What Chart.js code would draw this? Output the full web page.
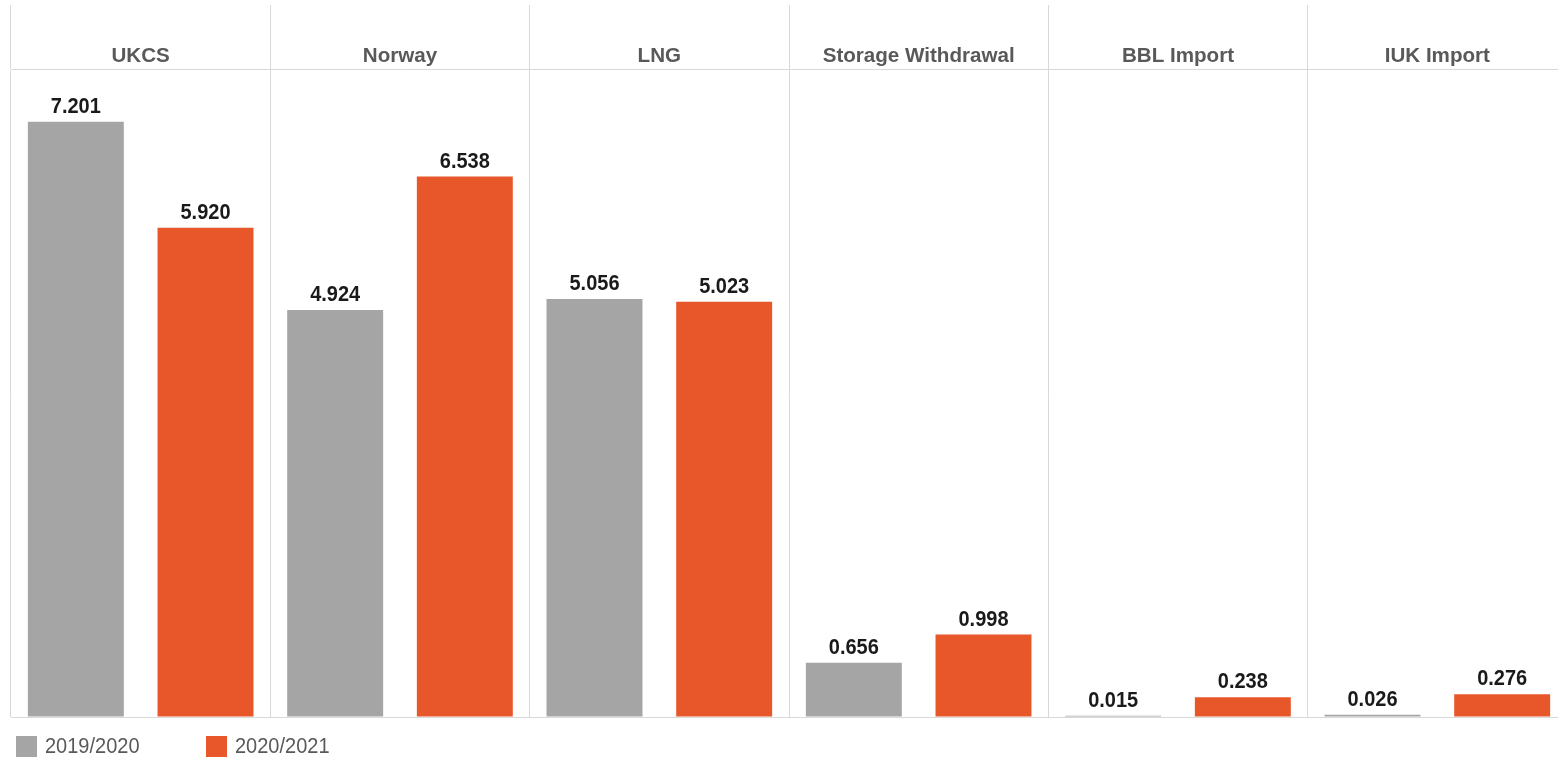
<!DOCTYPE html>
<html>
<head>
<meta charset="utf-8">
<script src="https://cdn.jsdelivr.net/npm/chart.js@4.4.1/dist/chart.umd.min.js"></script>
<style>
  html, body { margin: 0; padding: 0; background: #ffffff; overflow: hidden; }
  canvas { display: block; }
</style>
</head>
<body>
<canvas id="c" width="1570" height="759"></canvas>
<script>
const categories = ['UKCS', 'Norway', 'LNG', 'Storage Withdrawal', 'BBL Import', 'IUK Import'];
const seriesLabels = ['2019/2020', '2020/2021'];
const values2019 = [7.201, 4.924, 5.056, 0.656, 0.015, 0.026];
const values2020 = [5.920, 6.538, 5.023, 0.998, 0.238, 0.276];
const seriesColors = ['#a5a5a5', '#e8572a'];

const FONT = "'Liberation Sans', Arial, sans-serif";
const V_STRETCH = 1.1;

const valueLabels = {
  id: 'valueLabels',
  afterDatasetsDraw(chart) {
    const ctx = chart.ctx;
    chart.data.datasets.forEach((ds, i) => {
      const meta = chart.getDatasetMeta(i);
      meta.data.forEach((bar, j) => {
        ctx.save();
        ctx.font = 'bold 20px ' + FONT;
        ctx.fillStyle = '#1a1a1a';
        ctx.textAlign = 'center';
        ctx.textBaseline = 'alphabetic';
        ctx.translate(bar.x, bar.y - 9);
        ctx.scale(1, V_STRETCH);
        ctx.fillText(ds.data[j].toFixed(3), 0, 0);
        ctx.restore();
      });
    });
  }
};

const customLegend = {
  id: 'customLegend',
  afterDraw(chart) {
    const ctx = chart.ctx;
    chart.data.datasets.forEach((ds, i) => {
      const x = 16 + i * 190;
      const y = 736;
      ctx.save();
      ctx.fillStyle = ds.backgroundColor;
      ctx.fillRect(x, y, 21, 21);
      ctx.font = '20px ' + FONT;
      ctx.textBaseline = 'middle';
      ctx.textAlign = 'left';
      ctx.fillStyle = '#595959';
      ctx.translate(x + 29, y + 11);
      ctx.scale(1, V_STRETCH);
      ctx.fillText(ds.label, 0, 0);
      ctx.restore();
    });
  }
};

new Chart(document.getElementById('c'), {
  type: 'bar',
  data: {
    labels: categories,
    datasets: [
      { label: seriesLabels[0], data: values2019, backgroundColor: seriesColors[0] },
      { label: seriesLabels[1], data: values2020, backgroundColor: seriesColors[1] }
    ]
  },
  options: {
    responsive: false,
    devicePixelRatio: 1,
    animation: false,
    datasets: { bar: { categoryPercentage: 1.0, barPercentage: 0.74 } },
    layout: { padding: { top: 5, left: 11, right: 3, bottom: 42 } },
    plugins: { legend: { display: false }, tooltip: { enabled: false } },
    scales: {
      x: {
        position: 'top',
        grid: { offset: true, color: '#d9d9d9', lineWidth: 1, tickLength: 64, drawOnChartArea: true },
        border: { display: true, color: '#d9d9d9' },
        ticks: {
          font: { family: FONT, size: 20.6, weight: 'bold' },
          color: '#595959',
          padding: -63.5,
          maxRotation: 0,
          autoSkip: false
        },
        afterFit(scale) { scale.height = 64; }
      },
      y: {
        display: true,
        min: 0,
        max: 7.84,
        ticks: { display: false },
        grid: {
          drawTicks: false,
          color: (c) => (c.tick && c.tick.value === 0 ? '#d9d9d9' : 'rgba(0,0,0,0)')
        },
        border: { display: false }
      }
    }
  },
  plugins: [valueLabels, customLegend]
});
</script>
</body>
</html>
